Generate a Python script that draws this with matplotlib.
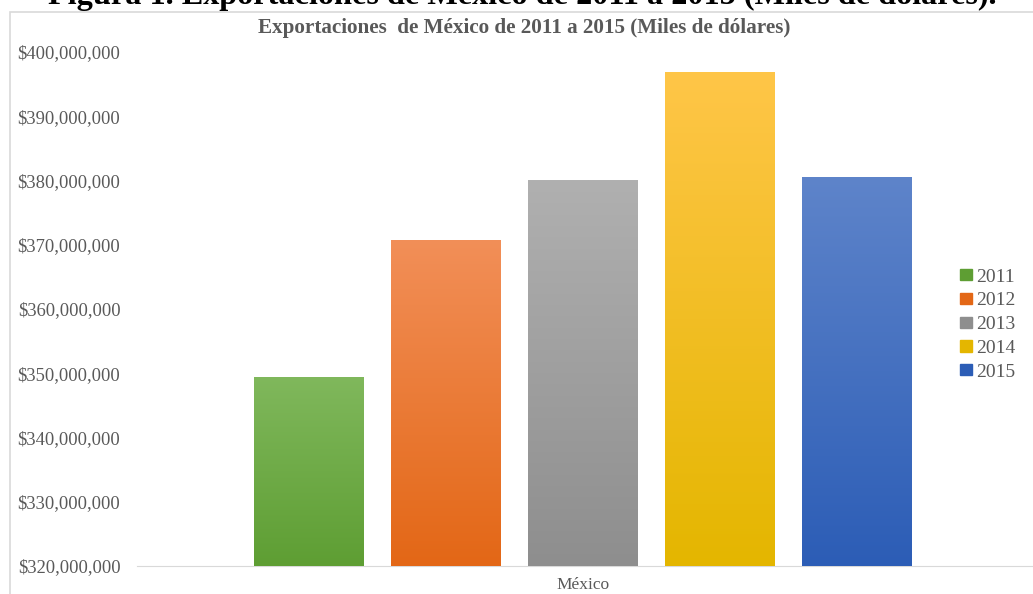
import matplotlib.pyplot as plt
import matplotlib.patches as patches
import matplotlib.colors as mcolors
import numpy as np
from matplotlib.ticker import FuncFormatter

# Exports of Mexico (thousands of dollars)
years = ["2011", "2012", "2013", "2014", "2015"]
exports = [349_433_386, 370_769_890, 380_015_028, 396_911_652, 380_550_446]
top_colors = ["#80b85c", "#f28f58", "#b0b0b0", "#ffc648", "#5e84ca"]
bottom_colors = ["#5e9e33", "#e36716", "#8e8e8e", "#e4b600", "#2c5db6"]
category = "México"

plt.rcParams['font.family'] = ['Liberation Serif', 'DejaVu Serif']
grey = "#595959"

fig = plt.figure(figsize=(10.33, 5.94), dpi=100)
ax = fig.add_axes([137 / 1033, 1 - 566 / 594, 1 - 137 / 1033, (566 - 52) / 594])

x = np.arange(len(years))
bars = ax.bar(x, exports, width=0.796, color=bottom_colors, zorder=2)

# vertical gradient on each bar
for rect, c_top, c_bot in zip(bars, top_colors, bottom_colors):
    cmap = mcolors.LinearSegmentedColormap.from_list("g", [c_bot, c_top])
    grad = np.linspace(0, 1, 256).reshape(-1, 1)
    x0 = rect.get_x()
    im = ax.imshow(grad, cmap=cmap, aspect='auto', origin='lower',
                   extent=[x0, x0 + rect.get_width(), 320_000_000, rect.get_height()],
                   zorder=3)
    im.set_clip_path(rect)

ax.set_xlim(-1.252, 5.288)
ax.set_ylim(320_000_000, 400_000_000)

ax.yaxis.set_major_formatter(FuncFormatter(lambda v, p: f"${v:,.0f}"))
ax.set_yticks(np.arange(320_000_000, 400_000_001, 10_000_000))
ax.set_xticks([2])
ax.set_xticklabels([category])
ax.tick_params(axis='both', length=0, colors=grey, labelsize=13.3)
ax.tick_params(axis='y', pad=12)
ax.tick_params(axis='x', pad=8, labelsize=12.5)
for s in ["top", "right", "left"]:
    ax.spines[s].set_visible(False)
ax.spines["bottom"].set_color("#d9d9d9")

# chart frame
fig.patches.append(patches.Rectangle((10 / 1033, -0.1), 1.1, 1.1 - 12 / 594,
                                     transform=fig.transFigure, fill=False,
                                     edgecolor="#d9d9d9", linewidth=1.2))

fig.text(524 / 1033, 1 - 28 / 594, "Exportaciones  de México de 2011 a 2015 (Miles de dólares)",
         ha='center', va='center', fontsize=15.2, fontweight='bold', color=grey)

# cropped caption above the chart
fig.text(522 / 1033, 1 - 4 / 594,
         "Figura 1. Exportaciones de México de 2011 a 2015 (Miles de dólares).",
         ha='center', va='baseline', fontsize=23.2, fontweight='bold', color='black')

handles = [patches.Patch(color=c) for c in bottom_colors]
leg = fig.legend(handles, years, loc='upper left', bbox_to_anchor=(942 / 1033, 1 - 251 / 594),
                 frameon=False, handlelength=0.65, handleheight=0.5, handletextpad=0.2,
                 labelspacing=0.35, fontsize=14, labelcolor=grey)

fig.savefig("out.png", dpi=100)
